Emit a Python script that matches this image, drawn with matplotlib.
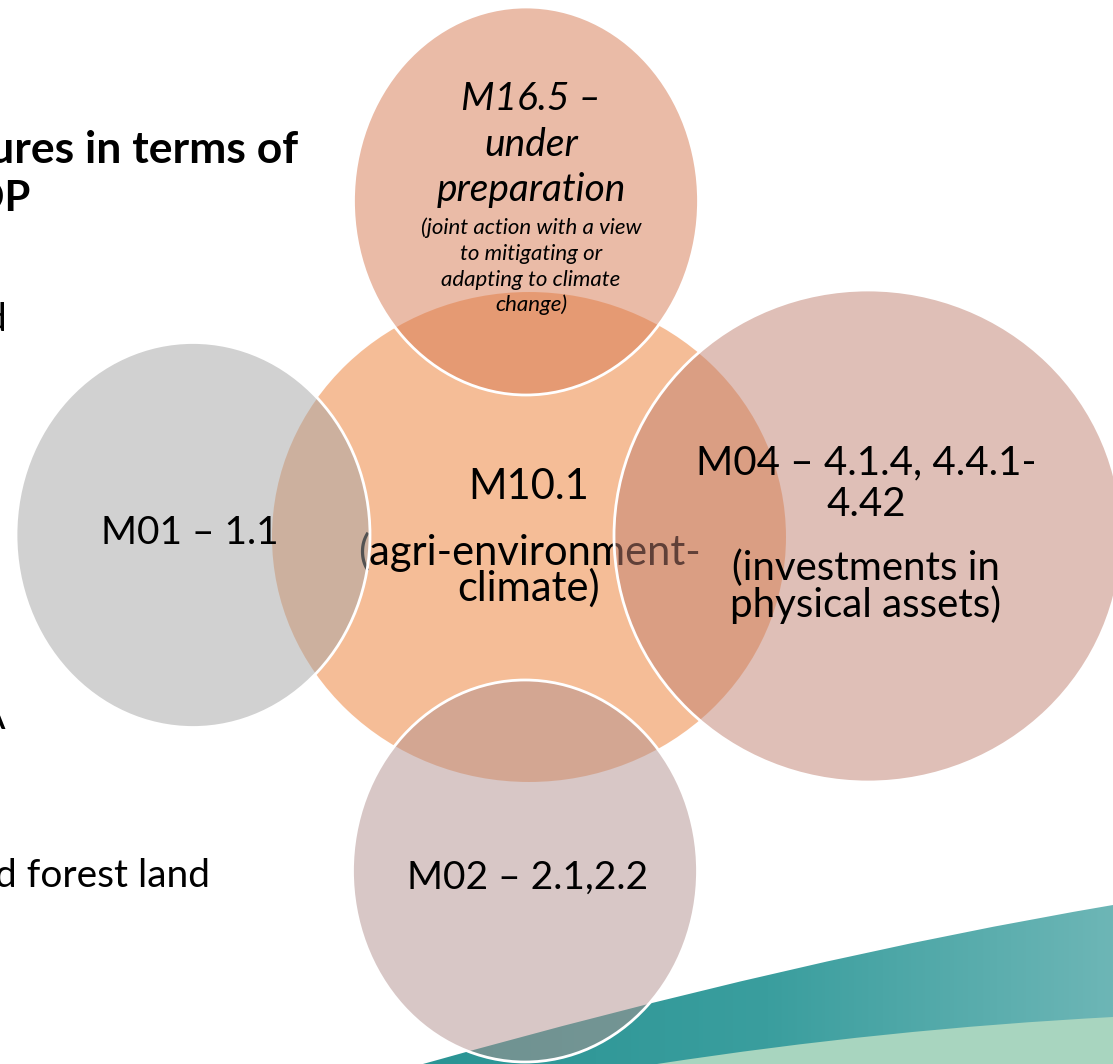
import matplotlib.pyplot as plt
import numpy as np
from matplotlib.patches import Ellipse, PathPatch
from matplotlib.path import Path
from matplotlib.colors import LinearSegmentedColormap, to_rgba

plt.rcParams['font.family'] = ['Lato', 'DejaVu Sans']

# measure groups shown as overlapping circles
names = ['M10.1', 'M16.5', 'M01', 'M04', 'M02']
colors = ['#ED7D31', '#D77951', '#A5A5A5', '#C18171', '#B3918F']
# (x, y, width, height) in pixel units of the slide
shapes = [(529, 537, 514, 490),
          (526, 201, 345, 388),
          (193, 535, 354, 385),
          (868, 536, 508, 492),
          (525, 871, 345, 382)]

center_lines = ['M10.1', '(agri-environment-', 'climate)']
top_lines = ['M16.5 –', 'under', 'preparation']
top_note = ['(joint action with a view', 'to mitigating or',
            'adapting to climate', 'change)']
left_label = 'M01 – 1.1'
right_lines = ['M04 – 4.1.4, 4.4.1-', '4.42', '(investments in', 'physical assets)']
bottom_label = 'M02 – 2.1,2.2'

# slide text cut off on the left edge
side_bold = ['measures in terms of', 'RDP']
side_text = ['and', 'RA', 'agricultural and forest land']

W, H = 1113, 1064
fig = plt.figure(figsize=(W / 100, H / 100), dpi=100)
ax = fig.add_axes([0, 0, 1, 1])
ax.set_xlim(0, W)
ax.set_ylim(H, 0)
ax.axis('off')

# decorative swoosh in the corner
teal_path = Path([(423, 1064), (800, 958), (1113, 905), (1113, 1064), (423, 1064)],
                 [Path.MOVETO, Path.CURVE3, Path.CURVE3, Path.LINETO, Path.CLOSEPOLY])
teal = PathPatch(teal_path, facecolor='none', edgecolor='none')
ax.add_patch(teal)
cmap = LinearSegmentedColormap.from_list('teal', ['#2A9494', '#3A9E9E', '#6DB6B6'])
grad = np.linspace(0, 1, 256).reshape(1, -1)
img = ax.imshow(grad, cmap=cmap, extent=[423, 1113, 1064, 900], aspect='auto', zorder=1)
img.set_clip_path(teal)
green_path = Path([(657, 1064), (885, 1029), (1113, 1017), (1113, 1064), (657, 1064)],
                  [Path.MOVETO, Path.CURVE3, Path.CURVE3, Path.LINETO, Path.CLOSEPOLY])
ax.add_patch(PathPatch(green_path, facecolor='#A8D5BF', edgecolor='none', zorder=2))

big = 30
mid = 28


def circle(i, z):
    x, y, w, h = shapes[i]
    ax.add_patch(Ellipse((x, y), w, h, facecolor=to_rgba(colors[i], 0.5),
                         edgecolor='white' if i else 'none', lw=2, zorder=z))


# centre circle and its text sit under the outer circles
circle(0, 3)
ax.text(529, 487, center_lines[0], fontsize=big, ha='center', va='center', zorder=4)
ax.text(529, 552, center_lines[1], fontsize=big, ha='center', va='center', zorder=4)
ax.text(529, 588, center_lines[2], fontsize=big, ha='center', va='center', zorder=4)

circle(1, 5)
for s, yy in zip(top_lines, [99, 145, 190]):
    ax.text(531, yy, s, fontsize=28, style='italic', ha='center', va='center', zorder=6)
for s, yy in zip(top_note, [228, 254, 280, 305]):
    ax.text(531, yy, s, fontsize=16, style='italic', ha='center', va='center', zorder=6)

circle(2, 5)
ax.text(190, 533, left_label, fontsize=mid, ha='center', va='center', zorder=6)

circle(3, 5)
for s, yy in zip(right_lines, [463, 505, 568, 605]):
    ax.text(866, yy, s, fontsize=mid + 1, ha='center', va='center', zorder=6)

circle(4, 5)
ax.text(528, 878, bottom_label, fontsize=mid, ha='center', va='center', zorder=6)

# left column of the slide
ax.text(298, 150, side_bold[0], fontsize=32, fontweight='bold', ha='right', va='center')
ax.text(31, 199, side_bold[1], fontsize=30, fontweight='bold', ha='right', va='center')
ax.text(8, 320, side_text[0], fontsize=28, ha='right', va='center')
ax.text(6, 718, side_text[1], fontsize=28, ha='right', va='center')
ax.text(210, 876, side_text[2], fontsize=28, ha='right', va='center')

fig.savefig('out.png', dpi=100, facecolor='white')
